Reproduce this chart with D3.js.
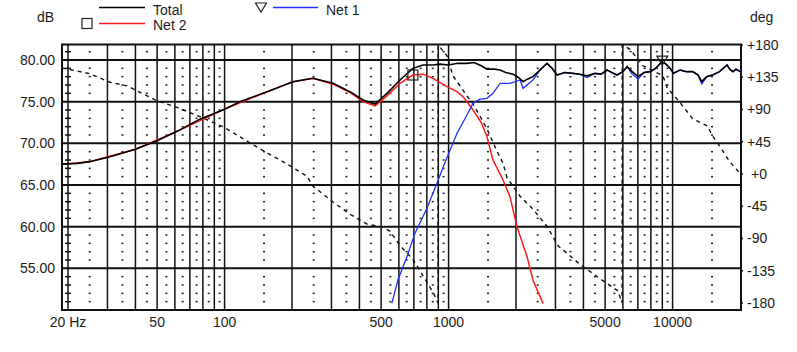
<!DOCTYPE html>
<html>
<head>
<meta charset="utf-8">
<script src="https://cdn.jsdelivr.net/npm/d3@7"></script>
<style>
  body { margin: 0; background: #fff; }
  text { font-family: Arial, "Liberation Sans", sans-serif; font-size: 14px; fill: #1c1c1c; }
</style>
</head>
<body>
<svg id="chart" width="797" height="352"></svg>
<script>
// data
const totalFreq = [19, 22, 25, 30.8, 40, 50, 62, 77.6, 100, 117, 155, 202, 248, 305, 363, 415, 470, 531, 607, 693, 769, 850, 916, 1000, 1100, 1208, 1300, 1400, 1484, 1600, 1698, 1800, 1940, 2050, 2150, 2250, 2380, 2560, 2750, 2900, 3050, 3300, 3590, 3850, 4150, 4500, 4800, 5100, 5350, 5650, 6000, 6270, 6600, 7010, 7450, 7930, 8400, 8970, 9350, 9750, 10100, 10800, 11500, 12300, 13000, 13500, 14200, 15100, 16200, 17500, 18000, 18600, 19200, 20000];
const totalDb = [67.5, 67.6, 67.8, 68.4, 69.3, 70.3, 71.5, 72.9, 74.1, 75.0, 76.2, 77.4, 77.8, 77.2, 76.2, 75.2, 74.7, 76.0, 77.6, 79.0, 79.4, 79.4, 79.5, 79.4, 79.6, 79.6, 79.7, 79.3, 78.9, 78.9, 78.8, 78.5, 78.3, 77.9, 77.4, 77.7, 78.0, 78.8, 79.6, 79.0, 78.2, 78.5, 78.4, 78.3, 78.1, 78.4, 78.3, 78.8, 78.5, 78.2, 78.6, 79.2, 78.6, 78.0, 78.5, 78.6, 79.0, 79.8, 79.5, 79.0, 78.4, 78.8, 78.6, 78.6, 78.2, 77.4, 78.0, 78.2, 78.6, 79.4, 78.9, 78.6, 78.9, 78.6];

const net2Freq = [19, 25, 40, 62, 100, 155, 202, 248, 305, 363, 415, 470, 531, 607, 693, 769, 852, 984, 1091, 1160, 1286, 1400, 1484, 1578, 1750, 1880, 2020, 2240, 2380, 2640];
const net2Db = [67.5, 67.8, 69.3, 71.5, 74.1, 76.2, 77.4, 77.8, 77.1, 76.1, 75.0, 74.5, 75.7, 77.2, 78.2, 78.3, 77.8, 76.8, 76.2, 75.6, 74.0, 72.5, 70.8, 68.0, 65.6, 63.6, 60.0, 56.4, 53.6, 50.8];

const net1Freq = [558, 594, 652, 708, 801, 887, 984, 1091, 1208, 1286, 1380, 1484, 1578, 1698, 1880, 2085, 2150, 2380, 2560, 2750, 2900, 3050, 3300, 3590, 3850, 4150, 4500, 4800, 5100, 5350, 5650, 6000, 6270, 6600, 7010, 7450, 7930, 8400, 8970, 9350, 9750, 10100, 10800, 11500, 12300, 13000, 13500, 14200, 15100, 16200, 17500, 18000, 18600, 19200, 20000];
const net1Db = [50.8, 53.6, 56.4, 59.2, 62.2, 65.2, 68.3, 71.2, 73.4, 74.8, 75.3, 75.4, 76.0, 77.2, 77.2, 77.6, 76.6, 77.6, 78.8, 79.6, 79.0, 78.2, 78.5, 78.4, 78.3, 77.9, 78.4, 78.3, 78.8, 78.5, 78.2, 78.6, 79.2, 78.3, 77.7, 78.5, 78.6, 79.0, 79.8, 79.5, 79.0, 78.4, 78.8, 78.6, 78.6, 78.2, 77.1, 78.0, 78.2, 78.6, 79.4, 78.9, 78.6, 78.9, 78.6];

const phaseFreq = [18.8, 25, 30.8, 36.7, 50, 61.3, 77.6, 98.4, 117, 144, 190, 233, 248, 305, 363, 433, 509, 548, 607, 693, 769, 852, 898, 899, 984, 1046, 1125, 1208, 1286, 1380, 1484, 1644, 1750, 1824, 2085, 2380, 2750, 3080, 3860, 4740, 5700, 5950, 5960, 6460, 7380, 9060, 9440, 11100, 12300, 14300, 15100, 16300, 18000, 20000];
const phaseDeg = [148, 140, 128, 123, 102, 93, 80, 66, 52, 35, 14, -3, -17, -39, -56, -70, -74, -80, -100, -119, -142, -165, -180, 180, 165, 137, 123, 109, 98, 81, 63, 32, 15, -5, -31, -49, -73, -100, -126, -146, -163, -180, 180, 174, 151, 137, 121, 95, 77, 67, 53, 38, 17, 1];

const dbTicks = [80, 75, 70, 65, 60, 55];
const phaseTicks = [180, 135, 90, 45, 0, -45, -90, -135, -180];
const freqLabels = [[20, "20 Hz"], [50, "50"], [100, "100"], [500, "500"], [1000, "1000"], [5000, "5000"], [10000, "10000"]];
const majorFreqs = [20, 30, 40, 50, 60, 70, 80, 90, 100, 200, 300, 400, 500, 600, 700, 800, 900, 1000, 2000, 3000, 4000, 5000, 6000, 7000, 8000, 9000, 10000];
const minorFreqs = [25, 35, 45, 55, 65, 75, 85, 95, 150, 250, 350, 450, 550, 650, 750, 850, 950, 1500, 2500, 3500, 4500, 5500, 6500, 7500, 8500, 9500, 15000];

const svg = d3.select('#chart');

const x = d3.scaleLog().domain([20, 20000]).range([68, 740]);
const y = d3.scaleLinear().domain([50, 80]).range([310, 60]);
const yPh = d3.scaleLinear().domain([-180, 180]).range([303, 45]);

const plotLeft = 62, plotRight = 741, plotTop = 44.5, plotBottom = y(50);

svg.append('clipPath').attr('id', 'plotclip')
  .append('rect').attr('x', plotLeft).attr('y', plotTop)
  .attr('width', plotRight - plotLeft).attr('height', plotBottom - plotTop);

// dotted minor columns, one dot per dB
const dotDb = d3.range(51, 82).filter(d => d % 5 !== 0);
minorFreqs.forEach(f => {
  svg.append('g').selectAll('rect')
    .data(dotDb)
    .enter().append('rect')
    .attr('x', x(f) - 1)
    .attr('y', d => y(d) - 0.75)
    .attr('width', 2)
    .attr('height', 1.5)
    .attr('fill', '#222');
});

// ticks on the 20 Hz line
svg.append('g').selectAll('line')
  .data(dotDb)
  .enter().append('line')
  .attr('x1', x(20) - 3).attr('x2', x(20) + 3)
  .attr('y1', d => y(d)).attr('y2', d => y(d))
  .attr('stroke', '#111').attr('stroke-width', 1.5);

// grid
svg.append('g').selectAll('line')
  .data(majorFreqs)
  .enter().append('line')
  .attr('x1', d => x(d)).attr('x2', d => x(d))
  .attr('y1', plotTop).attr('y2', plotBottom)
  .attr('stroke', '#111').attr('stroke-width', 1.5);

svg.append('g').selectAll('line')
  .data(dbTicks)
  .enter().append('line')
  .attr('x1', plotLeft).attr('x2', plotRight)
  .attr('y1', d => y(d)).attr('y2', d => y(d))
  .attr('stroke', '#111').attr('stroke-width', 2);

svg.append('rect')
  .attr('x', plotLeft).attr('y', plotTop)
  .attr('width', plotRight - plotLeft).attr('height', plotBottom - plotTop)
  .attr('fill', 'none').attr('stroke', '#111').attr('stroke-width', 2);

// right side little ticks
svg.append('g').selectAll('line')
  .data(phaseTicks)
  .enter().append('line')
  .attr('x1', plotRight).attr('x2', plotRight + 2)
  .attr('y1', d => yPh(d)).attr('y2', d => yPh(d))
  .attr('stroke', '#111').attr('stroke-width', 1.5);

// curves
const curves = svg.append('g').attr('clip-path', 'url(#plotclip)');
const dbLine = d3.line().x(d => x(d[0])).y(d => y(d[1]));
const phLine = d3.line().x(d => x(d[0])).y(d => yPh(d[1]));

curves.append('path')
  .datum(d3.zip(phaseFreq, phaseDeg))
  .attr('d', phLine)
  .attr('fill', 'none').attr('stroke', '#111')
  .attr('stroke-width', 1.4).attr('stroke-dasharray', '4,4');

curves.append('path')
  .datum(d3.zip(net2Freq, net2Db))
  .attr('d', dbLine)
  .attr('fill', 'none').attr('stroke', '#ff1a1a').attr('stroke-width', 1.5);

curves.append('path')
  .datum(d3.zip(net1Freq, net1Db))
  .attr('d', dbLine)
  .attr('fill', 'none').attr('stroke', '#2233ff').attr('stroke-width', 1.3);

curves.append('path')
  .datum(d3.zip(totalFreq, totalDb))
  .attr('d', dbLine)
  .attr('fill', 'none').attr('stroke', '#000').attr('stroke-width', 1.6);

// markers on the curves
svg.append('rect')
  .attr('x', x(693) - 5).attr('y', y(78.2) - 5)
  .attr('width', 10).attr('height', 10)
  .attr('fill', 'none').attr('stroke', '#222').attr('stroke-width', 1.2);

const tri = (cx, cy) => `M${cx - 5.5},${cy - 4.5}L${cx + 5.5},${cy - 4.5}L${cx},${cy + 4.5}Z`;
svg.append('path')
  .attr('d', tri(x(9000), y(79.8) - 1))
  .attr('fill', 'none').attr('stroke', '#222').attr('stroke-width', 1.2);

// axis labels
svg.append('g').selectAll('text')
  .data(dbTicks)
  .enter().append('text')
  .attr('x', 55).attr('y', d => y(d))
  .attr('dy', '0.35em').attr('text-anchor', 'end')
  .text(d => d.toFixed(2));

svg.append('g').selectAll('text')
  .data(phaseTicks)
  .enter().append('text')
  .attr('x', d => d === 0 ? 751 : 747).attr('y', d => yPh(d))
  .attr('dy', '0.35em')
  .text(d => (d >= 0 ? '+' : '') + d);

svg.append('g').selectAll('text')
  .data(freqLabels)
  .enter().append('text')
  .attr('x', d => x(d[0])).attr('y', 327)
  .attr('text-anchor', 'middle')
  .text(d => d[1]);

svg.append('text').attr('x', 37).attr('y', 22).text('dB');
svg.append('text').attr('x', 750).attr('y', 22).text('deg');

// legend
const legend = svg.append('g');
legend.append('line').attr('x1', 99).attr('x2', 145).attr('y1', 7.5).attr('y2', 7.5)
  .attr('stroke', '#000').attr('stroke-width', 1.4);
legend.append('text').attr('x', 153).attr('y', 14.5).text('Total');

legend.append('rect').attr('x', 82).attr('y', 18.5).attr('width', 10).attr('height', 10)
  .attr('fill', 'none').attr('stroke', '#222').attr('stroke-width', 1.2);
legend.append('line').attr('x1', 99).attr('x2', 145).attr('y1', 23.5).attr('y2', 23.5)
  .attr('stroke', '#ff1a1a').attr('stroke-width', 1.4);
legend.append('text').attr('x', 153).attr('y', 29.5).text('Net 2');

legend.append('path').attr('d', tri(261, 7.5))
  .attr('fill', 'none').attr('stroke', '#222').attr('stroke-width', 1.2);
legend.append('line').attr('x1', 273).attr('x2', 318).attr('y1', 7.5).attr('y2', 7.5)
  .attr('stroke', '#2233ff').attr('stroke-width', 1.4);
legend.append('text').attr('x', 326).attr('y', 14.5).text('Net 1');
</script>
</body>
</html>
